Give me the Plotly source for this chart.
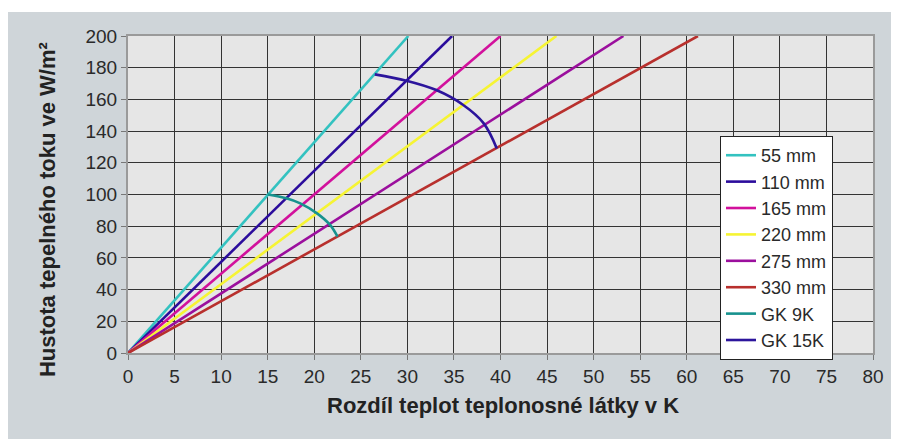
import plotly.graph_objects as go

# krivky tepelneho toku pro ruzne rozteče (dT v K, q ve W/m2)
dt_55 = [0, 30.1]
q_55 = [0, 200]
dt_110 = [0, 34.8]
q_110 = [0, 200]
dt_165 = [0, 40.0]
q_165 = [0, 200]
dt_220 = [0, 46.0]
q_220 = [0, 200]
dt_275 = [0, 53.2]
q_275 = [0, 200]
dt_330 = [0, 61.2]
q_330 = [0, 200]

# mezni krivky GK
dt_gk9 = [15.0, 17.0, 18.5, 20.3, 21.7, 22.5]
q_gk9 = [100.0, 97.6, 94.4, 88.1, 80.8, 73.4]
dt_gk15 = [26.5, 29.9, 33.1, 36.0, 38.2, 39.6]
q_gk15 = [175.8, 171.8, 165.9, 156.5, 144.9, 129.1]

x_ticks = list(range(0, 81, 5))
y_ticks = list(range(0, 201, 20))

x_title = "Rozdíl teplot teplonosné látky v K"
y_title = "Hustota tepelného toku ve W/m²"

series = [
    ("55 mm", dt_55, q_55, "#33c2c0"),
    ("110 mm", dt_110, q_110, "#2b0c9c"),
    ("165 mm", dt_165, q_165, "#d2119c"),
    ("220 mm", dt_220, q_220, "#f6f433"),
    ("275 mm", dt_275, q_275, "#9b0f9d"),
    ("330 mm", dt_330, q_330, "#b8302d"),
    ("GK 9K", dt_gk9, q_gk9, "#17928e"),
    ("GK 15K", dt_gk15, q_gk15, "#2c159c"),
]

fig = go.Figure()
for name, x, y, color in series:
    fig.add_trace(go.Scatter(
        x=x, y=y, mode="lines", name=name,
        line=dict(color=color, width=2.6, shape="spline"),
    ))

font_fam = "Liberation Sans, Arial, Helvetica"

# bily pruh nahore (stranka ma vlastni okraj 8 px)
fig.add_shape(
    type="rect", xref="paper", yref="paper",
    x0=-0.3, x1=1.2, y0=1 + 24 / 317, y1=1.2,
    fillcolor="white", line=dict(width=0), layer="below",
)

# popisky os
fig.add_annotation(
    text="<b>" + x_title + "</b>", xref="paper", yref="paper",
    x=0.503, y=-0.166, showarrow=False, xanchor="center", yanchor="middle",
    font=dict(family=font_fam, size=22, color="#222"),
)
fig.add_annotation(
    text="<b>" + y_title + "</b>", xref="paper", yref="paper",
    x=-0.1087, y=0.451, showarrow=False, textangle=-90,
    xanchor="center", yanchor="middle",
    font=dict(family=font_fam, size=22, color="#222"),
)

fig.update_layout(
    width=891, height=431,
    margin=dict(l=120, r=26, t=28, b=86),
    paper_bgcolor="#cfd5d9",
    plot_bgcolor="#e6e6e6",
    font=dict(family=font_fam, size=19, color="#2a2a2a"),
    showlegend=True,
    legend=dict(
        x=0.7946, y=0.6845, xanchor="left", yanchor="top",
        bgcolor="white", bordercolor="#222", borderwidth=1,
        font=dict(family=font_fam, size=18, color="#2a2a2a"),
        tracegroupgap=0,
    ),
    xaxis=dict(
        range=[0, 80], tickvals=x_ticks, ticktext=[str(v) for v in x_ticks],
        showgrid=True, gridcolor="#333333", gridwidth=1.2,
        showline=True, linecolor="#9a9a9a", linewidth=2, mirror=True,
        ticks="outside", ticklen=5, tickcolor="#777", zeroline=False,
        automargin=False,
    ),
    yaxis=dict(
        range=[0, 200], tickvals=y_ticks, ticktext=[str(v) for v in y_ticks],
        showgrid=True, gridcolor="#333333", gridwidth=1.2,
        showline=True, linecolor="#9a9a9a", linewidth=2, mirror=True,
        ticks="outside", ticklen=5, tickcolor="#777", zeroline=False,
        automargin=False,
    ),
)

fig.write_html("out.html")
